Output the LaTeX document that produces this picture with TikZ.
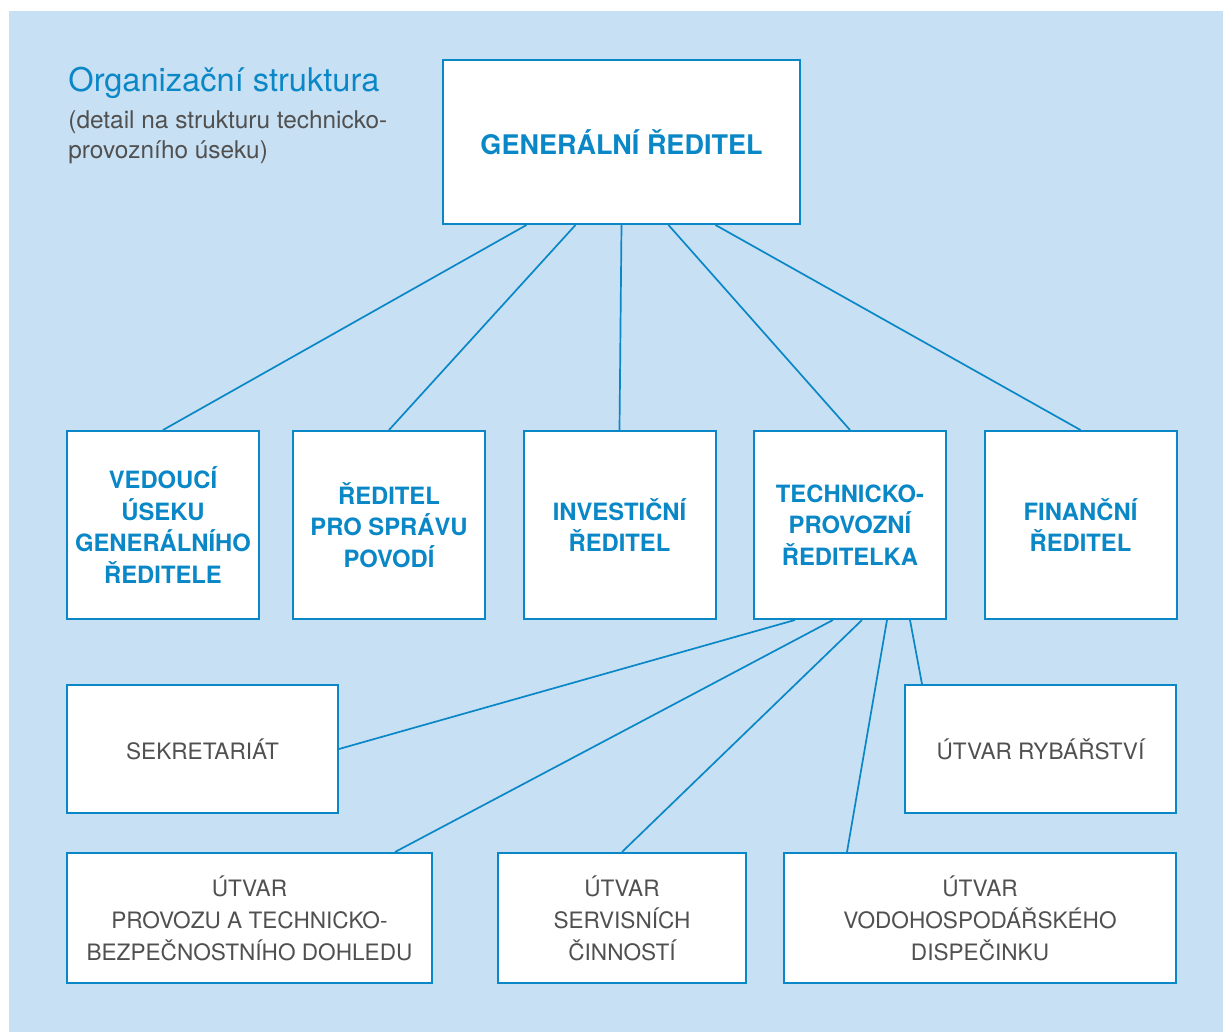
\documentclass[tikz,border=0pt]{standalone}
\usepackage{fontspec}
\setmainfont{TeX Gyre Heros}
\usepackage{xcolor}
\usepackage{tikz}

\definecolor{lineblue}{HTML}{0A87C6}
\definecolor{paleblue}{HTML}{C8E0F3}
\definecolor{labelgrey}{HTML}{505050}

\begin{document}
\begin{tikzpicture}[x=0.5pt,y=-0.5pt,
    box/.style={draw=lineblue,line width=1pt,fill=white,inner sep=0pt,align=center},
    headbox/.style={box,font=\bfseries\fontsize{11.9}{15.9}\selectfont,text=lineblue,minimum width=96pt,minimum height=94pt},
    unitbox/.style={box,font=\fontsize{11.3}{16}\selectfont,text=labelgrey,minimum height=65pt},
    link/.style={draw=lineblue,line width=0.85pt}]
            % Background
            \fill[white] (0,0) rectangle (1223,1032);
            \fill[paleblue] (9,11) rectangle (1223,1032);
            % Title
            \node[anchor=base west,inner sep=0pt,text=lineblue,font=\fontsize{16.3}{19}\selectfont] (title) at (68,92) {Organizační struktura};
            \node[anchor=north west,inner sep=0pt,text=labelgrey,align=left,font=\fontsize{12.2}{15}\selectfont] (subtitle) at (68,110) {(detail na strukturu technicko-\\provozního úseku)};
            % Top box
            \node[box,minimum width=178.5pt,minimum height=82pt,text=lineblue,font=\bfseries\fontsize{13.5}{16}\selectfont] (gr) at (621.5,142) {GENERÁLNÍ ŘEDITEL};
            % Directors
            \node[headbox] (ved) at (163,525) {VEDOUCÍ\\ÚSEKU\\GENERÁLNÍHO\\ŘEDITELE};
            \node[headbox] (spr) at (389,525) {ŘEDITEL\\PRO SPRÁVU\\POVODÍ};
            \node[headbox] (inv) at (619.5,525) {INVESTIČNÍ\\ŘEDITEL};
            \node[headbox] (tech) at (850,525) {TECHNICKO-\\PROVOZNÍ\\ŘEDITELKA};
            \node[headbox] (fin) at (1080.5,525) {FINANČNÍ\\ŘEDITEL};
            % Units
            \node[unitbox,minimum width=135.5pt,minimum height=64pt] (sekr) at (202.5,749) {SEKRETARIÁT};
            \node[unitbox,minimum width=135.5pt,minimum height=64pt] (ryb) at (1040.5,749) {ÚTVAR RYBÁŘSTVÍ};
            \node[unitbox,minimum width=182.5pt] (prov) at (249.5,918) {ÚTVAR\\PROVOZU A TECHNICKO-\\BEZPEČNOSTNÍHO DOHLEDU};
            \node[unitbox,minimum width=124pt] (serv) at (622,918) {ÚTVAR\\SERVISNÍCH\\ČINNOSTÍ};
            \node[unitbox,minimum width=196pt] (vodo) at (980,918) {ÚTVAR\\VODOHOSPODÁŘSKÉHO\\DISPEČINKU};
            % Draw lines from the top
            \draw[link] ([xshift=-47.5pt]gr.south) -- (ved.north);
            \draw[link] ([xshift=-23pt]gr.south) -- (spr.north);
            \draw[link] (gr.south) -- (inv.north);
            \draw[link] ([xshift=23.5pt]gr.south) -- (tech.north);
            \draw[link] ([xshift=47pt]gr.south) -- (fin.north);
            % Draw lines to the units
            \draw[link] ([xshift=-27.5pt]tech.south) -- (sekr.east);
            \draw[link] ([xshift=-8.5pt]tech.south) -- ([xshift=72.75pt]prov.north);
            \draw[link] ([xshift=6pt]tech.south) -- (serv.north);
            \draw[link] ([xshift=18.5pt]tech.south) -- ([xshift=-66.5pt]vodo.north);
            \draw[link] ([xshift=30pt]tech.south) -- ([xshift=-59.25pt]ryb.north);
        \end{tikzpicture}
\end{document}
